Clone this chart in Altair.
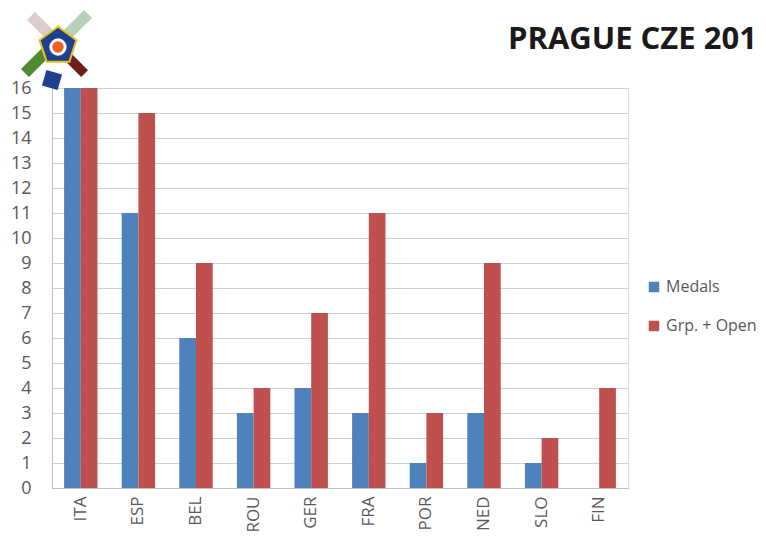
import altair as alt
import pandas as pd

countries = ["ITA", "ESP", "BEL", "ROU", "GER", "FRA", "POR", "NED", "SLO", "FIN"]
medals = [16, 11, 6, 3, 4, 3, 1, 3, 1, 0]
grp_open = [16, 15, 9, 4, 7, 11, 3, 9, 2, 4]
series = ["Medals", "Grp. + Open"]
colors = ["#4F81BD", "#C0504D"]
y_ticks = list(range(0, 17))
title_text = "PRAGUE CZE 201"

rows = []
for c, m, g in zip(countries, medals, grp_open):
    rows.append({"country": c, "series": series[0], "value": m})
    rows.append({"country": c, "series": series[1], "value": g})
df = pd.DataFrame(rows)

FONT = "Open Sans"
GRAY = "#595959"
OX, OY = 52, 88  # plot origin on page

bars = alt.Chart(df).mark_bar().encode(
    x=alt.X("country:N", sort=countries, title=None,
            scale=alt.Scale(paddingInner=0.42, paddingOuter=0.21),
            axis=alt.Axis(labelAngle=-90, labelFontSize=17, labelColor=GRAY,
                          labelFont=FONT, labelPadding=8, ticks=False,
                          domainColor="#bfbfbf", labelAlign="right", labelBaseline="middle")),
    xOffset=alt.XOffset("series:N", sort=series, scale=alt.Scale(paddingInner=0, paddingOuter=0)),
    y=alt.Y("value:Q", title=None,
            scale=alt.Scale(domain=[0, 16], nice=False),
            axis=alt.Axis(values=y_ticks, labelFontSize=18, labelColor=GRAY, labelFont=FONT,
                          labelPadding=21, ticks=False, domainColor="#bfbfbf",
                          gridColor="#d0d0d0", gridWidth=1)),
    color=alt.Color("series:N", sort=series,
                    scale=alt.Scale(domain=series, range=colors),
                    legend=alt.Legend(title=None, orient="none", legendX=594, legendY=191,
                                      symbolType="square", symbolSize=110, symbolStrokeWidth=0,
                                      labelFontSize=16, labelColor=GRAY, labelFont=FONT,
                                      rowPadding=23, labelOffset=4)),
)

one = pd.DataFrame({"a": [0]})

title = alt.Chart(pd.DataFrame({"t": [title_text]})).mark_text(
    align="left", baseline="middle", fontSize=31, fontWeight="bold", font=FONT, color="#1a1a1a"
).encode(x=alt.value(508 - OX), y=alt.value(40 - OY), text="t:N")

topline = alt.Chart(one).mark_rule(color="#a9bfe6", strokeWidth=2).encode(
    x=alt.value(-OX), x2=alt.value(720), y=alt.value(1 - OY)
)

BAND_A = "M 0.95 0.45 L 0.45 0.95 L -0.95 -0.45 L -0.45 -0.95 Z"
BAND_B = "M -0.95 0.45 L -0.45 0.95 L 0.95 -0.45 L 0.45 -0.95 Z"
PENTA = "M 0 -1 L 0.951 -0.309 L 0.588 0.809 L -0.588 0.809 L -0.951 -0.309 Z"
TAG = "M -0.5 -0.9 L 0.9 -0.5 L 0.5 0.9 L -0.9 0.5 Z"

def logo_piece(shape, px, py, size, fill, opacity=1.0, stroke=None, sw=0):
    kw = dict(shape=shape, size=size, filled=True, color=fill, opacity=opacity)
    if stroke:
        kw.update(stroke=stroke, strokeWidth=sw, strokeOpacity=1)
    return alt.Chart(one).mark_point(**kw).encode(
        x=alt.value(px - OX), y=alt.value(py - OY)
    )

logo = [
    logo_piece(BAND_A, 42, 27, 1000, "#b99a9a", 0.5),
    logo_piece(BAND_B, 77, 25, 1000, "#7fa77f", 0.55),
    logo_piece(BAND_B, 36, 62, 1000, "#4e8a2e"),
    logo_piece(BAND_A, 75, 64, 750, "#6e1c1c"),
    logo_piece(TAG, 52, 80, 500, "#1f3f8f"),
    logo_piece(PENTA, 58, 46, 1500, "#1f3f8f", 1.0, "#e8c020", 2),
    logo_piece("circle", 58, 47, 300, "#ffffff"),
    logo_piece("circle", 58, 47, 130, "#f06020"),
]

chart = alt.layer(*logo, bars, title, topline).properties(
    width=576, height=400,
    autosize=alt.AutoSizeParams(type="none"),
    padding={"left": 44, "top": 80, "right": 130, "bottom": 47},
).configure_view(stroke=None).configure(font=FONT)

chart.save("out.html", embed_options={"renderer": "svg", "actions": False})
